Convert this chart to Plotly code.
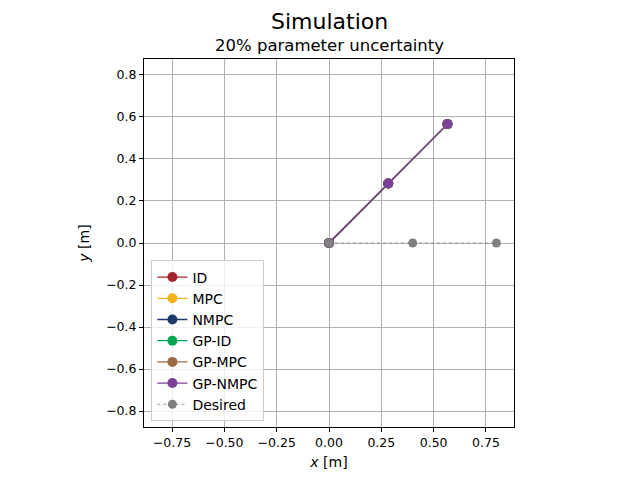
import plotly.graph_objects as go

# trajectory samples (all controllers overlap)
traj_x = [0.0, 0.283, 0.566]
traj_y = [0.0, 0.283, 0.566]

desired_x = [0.0, 0.4, 0.8]
desired_y = [0.0, 0.0, 0.0]

controllers = ["ID", "MPC", "NMPC", "GP-ID", "GP-MPC", "GP-NMPC"]
colors = ["#A4262C", "#F2B21B", "#1F3A68", "#00A651", "#9B6B43", "#7E3F98"]

x_ticks = [-0.75, -0.5, -0.25, 0.0, 0.25, 0.5, 0.75]
y_ticks = [-0.8, -0.6, -0.4, -0.2, 0.0, 0.2, 0.4, 0.6, 0.8]

fig = go.Figure()
for name, c in zip(controllers, colors):
    fig.add_trace(go.Scatter(
        x=traj_x, y=traj_y, name=name, mode="lines+markers",
        line=dict(color=c, width=1.3),
        marker=dict(color=c, size=10),
    ))
fig.add_trace(go.Scatter(
    x=desired_x, y=desired_y, name="Desired", mode="lines+markers",
    line=dict(color="#808080", width=0.8, dash="dot"),
    marker=dict(color="#808080", size=9),
))

axis_common = dict(
    showgrid=True, gridcolor="#b0b0b0", gridwidth=1,
    zeroline=False, showline=True, linecolor="black", linewidth=1,
    mirror=True, ticks="outside", ticklen=4, tickcolor="black",
    tickfont=dict(size=12.5, color="black"),
)
fig.update_xaxes(range=[-0.884, 0.884], tickvals=x_ticks,
                 ticktext=[f"{v:.2f}".replace("-", "\u2212") for v in x_ticks],
                 title=dict(text="<i>x</i> [m]", font=dict(size=14), standoff=8),
                 **axis_common)
fig.update_yaxes(range=[-0.876, 0.876], tickvals=y_ticks,
                 ticktext=[f"{v:.1f}".replace("-", "\u2212") for v in y_ticks],
                 title=dict(text="<i>y</i> [m]", font=dict(size=14), standoff=13),
                 **axis_common)

fig.update_layout(
    width=640, height=480,
    margin=dict(l=136, r=134, t=51, b=61),
    paper_bgcolor="white", plot_bgcolor="white",
    font=dict(family="DejaVu Sans", color="black"),
    showlegend=True,
    legend=dict(x=0.02, y=0.015, xanchor="left", yanchor="bottom",
                bgcolor="rgba(255,255,255,0.8)", bordercolor="#cccccc",
                borderwidth=1, font=dict(size=14), tracegroupgap=0,
                itemwidth=30),
    annotations=[
        dict(text="Simulation", x=0.5, y=1.0, xref="paper", yref="paper",
             xanchor="center", yanchor="bottom", yshift=23, showarrow=False,
             font=dict(size=22)),
        dict(text="20% parameter uncertainty", x=0.5, y=1.0, xref="paper",
             yref="paper", xanchor="center", yanchor="bottom", yshift=2,
             showarrow=False, font=dict(size=16.5)),
    ],
)

fig.write_html("out.html")
